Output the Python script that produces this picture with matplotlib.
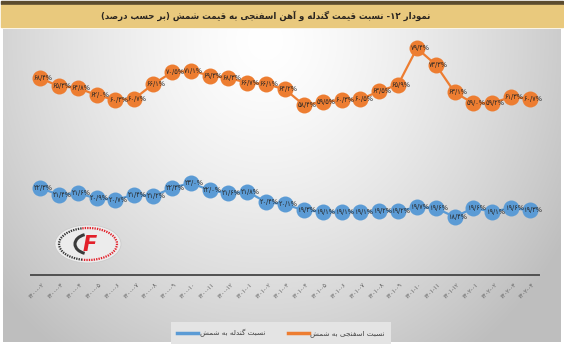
import re

import numpy as np
import matplotlib
matplotlib.use('Agg')
import matplotlib.pyplot as plt
from matplotlib.patches import Rectangle, Ellipse, Arc
from matplotlib.lines import Line2D
from matplotlib.transforms import ScaledTranslation

plt.rcParams['font.family'] = ['DejaVu Sans']

# Monthly ratios (percent of billet price)
months = ['۱۴۰۰-۰۲', '۱۴۰۰-۰۳', '۱۴۰۰-۰۴', '۱۴۰۰-۰۵', '۱۴۰۰-۰۶', '۱۴۰۰-۰۷',
          '۱۴۰۰-۰۸', '۱۴۰۰-۰۹', '۱۴۰۰-۱۰', '۱۴۰۰-۱۱', '۱۴۰۰-۱۲', '۱۴۰۱-۰۱',
          '۱۴۰۱-۰۲', '۱۴۰۱-۰۳', '۱۴۰۱-۰۴', '۱۴۰۱-۰۵', '۱۴۰۱-۰۶', '۱۴۰۱-۰۷',
          '۱۴۰۱-۰۸', '۱۴۰۱-۰۹', '۱۴۰۱-۱۰', '۱۴۰۱-۱۱', '۱۴۰۱-۱۲', '۱۴۰۲-۰۱',
          '۱۴۰۲-۰۲', '۱۴۰۲-۰۳', '۱۴۰۲-۰۴']
sponge_ratio = [68.4, 65.3, 64.8, 62.0, 60.3, 60.7, 66.1, 70.5, 71.1, 69.3,
                68.3, 66.7, 66.1, 64.2, 58.4, 59.5, 60.3, 60.5, 63.5, 65.9,
                79.4, 73.3, 63.1, 59.0, 59.2, 61.3, 60.7]
pellet_ratio = [22.3, 21.4, 21.6, 20.9, 20.7, 21.4, 21.2, 22.3, 23.0, 22.0,
                21.6, 21.8, 20.4, 20.1, 19.3, 19.1, 19.1, 19.1, 19.2, 19.2,
                19.7, 19.6, 18.4, 19.6, 19.1, 19.6, 19.3]

title = 'نمودار ۱۲- نسبت قیمت گندله و آهن اسفنجی به قیمت شمش (بر حسب درصد)'
sponge_name = 'نسبت اسفنجی به شمش'
pellet_name = 'نسبت گندله به شمش'

ORANGE = '#ED7D31'
BLUE = '#5B9BD5'

# presentation forms: isolated, final, initial, medial
FORMS = {
    'ا': ('\uFE8D', '\uFE8E', None, None),
    'آ': ('\uFE81', '\uFE82', None, None),
    'د': ('\uFEA9', '\uFEAA', None, None),
    'ر': ('\uFEAD', '\uFEAE', None, None),
    'و': ('\uFEED', '\uFEEE', None, None),
    'ب': ('\uFE8F', '\uFE90', '\uFE91', '\uFE92'),
    'ت': ('\uFE95', '\uFE96', '\uFE97', '\uFE98'),
    'ج': ('\uFE9D', '\uFE9E', '\uFE9F', '\uFEA0'),
    'ح': ('\uFEA1', '\uFEA2', '\uFEA3', '\uFEA4'),
    'س': ('\uFEB1', '\uFEB2', '\uFEB3', '\uFEB4'),
    'ش': ('\uFEB5', '\uFEB6', '\uFEB7', '\uFEB8'),
    'ص': ('\uFEB9', '\uFEBA', '\uFEBB', '\uFEBC'),
    'ف': ('\uFED1', '\uFED2', '\uFED3', '\uFED4'),
    'ق': ('\uFED5', '\uFED6', '\uFED7', '\uFED8'),
    'ل': ('\uFEDD', '\uFEDE', '\uFEDF', '\uFEE0'),
    'م': ('\uFEE1', '\uFEE2', '\uFEE3', '\uFEE4'),
    'ن': ('\uFEE5', '\uFEE6', '\uFEE7', '\uFEE8'),
    'ه': ('\uFEE9', '\uFEEA', '\uFEEB', '\uFEEC'),
    'ی': ('\uFBFC', '\uFBFD', '\uFBFE', '\uFBFF'),
    'گ': ('\uFB92', '\uFB93', '\uFB94', '\uFB95'),
}


def fa(text):
    """Join Persian letters and put them in visual (left-to-right) order."""
    out = []
    for i, ch in enumerate(text):
        if ch not in FORMS:
            out.append(ch)
            continue
        iso, fin, ini, med = FORMS[ch]
        prev = text[i - 1] if i > 0 else ''
        nxt = text[i + 1] if i + 1 < len(text) else ''
        join_prev = prev in FORMS and FORMS[prev][2] is not None
        join_next = nxt in FORMS and ini is not None
        if join_prev and join_next:
            out.append(med)
        elif join_prev:
            out.append(fin)
        elif join_next:
            out.append(ini)
        else:
            out.append(iso)
    vis = ''.join(out)[::-1]
    vis = re.sub(r'[0-9۰-۹]+', lambda m: m.group(0)[::-1], vis)
    return vis.translate(str.maketrans('()', ')('))


def fa_pct(v):
    s = f'{v:.1f}'.replace('.', '/')
    return s.translate(str.maketrans('0123456789', '۰۱۲۳۴۵۶۷۸۹')) + '%'


W, H = 564, 344
fig = plt.figure(figsize=(W / 100, H / 100), dpi=100)
fig.patch.set_facecolor('white')

# background layer in pixel coordinates
bg = fig.add_axes([0, 0, 1, 1])
bg.set_xlim(0, W)
bg.set_ylim(H, 0)
bg.axis('off')

gx, gy = np.meshgrid(np.arange(3, 561), np.arange(29, 342))
d = np.sqrt(((gx - 265) / 300.0) ** 2 + ((gy - 40) / 330.0) ** 2)
shade = np.clip(255 - 52 * d ** 1.4, 190, 255) / 255.0
bg.imshow(np.dstack([shade, shade, shade]), extent=(3, 561, 342, 29),
          aspect='auto', zorder=0)

bg.add_patch(Rectangle((1, 0.5), 562, 3.5, color='#5b4b2e', zorder=1))
bg.add_patch(Rectangle((1, 5), 562, 22, color='#e9c97d', zorder=1))
bg.text(266, 15.5, fa(title), ha='center', va='center', fontsize=6.2,
        fontweight='bold', color='#2a2520', zorder=2)

# logo
cx, cy = 88, 244
bg.add_patch(Ellipse((cx, cy), 66, 38, facecolor='#ececec',
                     edgecolor='#c8c8c8', lw=0.5, zorder=1))
bg.add_patch(Arc((cx, cy), 58, 32, theta1=110, theta2=250, color='#333333',
                 lw=1.6, ls=(0, (0.6, 0.5)), zorder=2))
bg.add_patch(Arc((cx, cy), 58, 32, theta1=250, theta2=470, color='#e3202a',
                 lw=1.6, ls=(0, (0.6, 0.5)), zorder=2))
bg.add_patch(Arc((cx + 2, cy), 30, 20, theta1=120, theta2=240,
                 color='#3a3a3a', lw=2.2, zorder=2))
bg.text(cx + 2, cy + 1, 'F', ha='center', va='center', fontsize=15,
        fontweight='bold', fontstyle='italic', color='#e3202a', zorder=3)

# plot area: bottom axis line at y=275 px, categories from 30.6 to 539.4 px
ax = fig.add_axes([30.6 / W, (H - 275) / H, 508.8 / W, 240 / H])
ax.patch.set_alpha(0)
ax2 = ax.twinx()

x = np.arange(len(months))

ax.plot(x, sponge_ratio, color=ORANGE, lw=1.6, marker='o', ms=11.5,
        mec='none', zorder=3)
ax2.plot(x, pellet_ratio, color=BLUE, lw=1.6, marker='o', ms=11.5,
         mec='none', zorder=3)

for xi, v in zip(x, sponge_ratio):
    ax.annotate(fa_pct(v), (xi, v), xytext=(2.2, 0), textcoords='offset points',
                ha='center', va='center', fontsize=4.7, color='#262626',
                zorder=4)
for xi, v in zip(x, pellet_ratio):
    ax2.annotate(fa_pct(v), (xi, v), xytext=(2.2, 0), textcoords='offset points',
                 ha='center', va='center', fontsize=4.7, color='#262626',
                 zorder=4)

ax.set_xlim(-0.5, len(months) - 0.5)
ax.set_ylim(-4.5, 84.3)
ax2.set_ylim(10.56, 42.96)

ax.set_xticks(x)
ax.set_xticklabels(months, rotation=45, ha='right', va='top',
                   rotation_mode='anchor', fontsize=4, color='#555555')
ax.tick_params(axis='x', length=0, pad=5)
shift = ScaledTranslation(2 / 100, 0, fig.dpi_scale_trans)
for lbl in ax.get_xticklabels():
    lbl.set_transform(lbl.get_transform() + shift)

ax.set_yticks([])
ax2.set_yticks([])
for side in ['top', 'left', 'right']:
    ax.spines[side].set_visible(False)
for side in ['top', 'left', 'right', 'bottom']:
    ax2.spines[side].set_visible(False)
ax.spines['bottom'].set_color('#505050')
ax.spines['bottom'].set_linewidth(1.4)

handles = [Line2D([], [], color=BLUE, lw=2.5),
           Line2D([], [], color=ORANGE, lw=2.5)]
leg = fig.legend(handles, [fa(pellet_name), fa(sponge_name)], loc='center',
                 bbox_to_anchor=(281 / W, 1 - 333 / H), ncol=2, fontsize=5.2,
                 frameon=True, fancybox=False, framealpha=1,
                 facecolor='#e4e4e4', edgecolor='none', handlelength=2.9,
                 handletextpad=0.2, columnspacing=3.2, borderpad=0.9)
for t in leg.get_texts():
    t.set_color('#404040')

fig.savefig('out.png', dpi=100)
